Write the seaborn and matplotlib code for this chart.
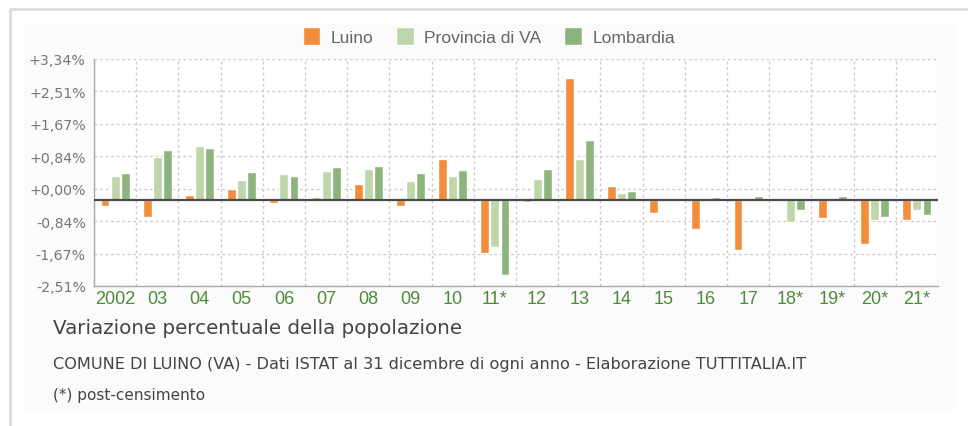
import pandas as pd
import seaborn as sns
import matplotlib.pyplot as plt
from matplotlib.lines import Line2D
from matplotlib.patches import Rectangle

anni = ["2002", "03", "04", "05", "06", "07", "08", "09", "10", "11*",
        "12", "13", "14", "15", "16", "17", "18*", "19*", "20*", "21*"]
luino = [-0.17, -0.45, 0.13, 0.26, -0.09, 0.07, 0.41, -0.17, 1.04, -1.39,
         -0.07, 3.14, 0.35, -0.34, -0.77, -1.30, -0.02, -0.49, -1.14, -0.54]
provincia = [0.60, 1.09, 1.39, 0.50, 0.66, 0.74, 0.80, 0.48, 0.60, -1.22,
             0.52, 1.06, 0.17, 0.01, 0.01, 0.01, -0.58, -0.03, -0.52, -0.28]
lombardia = [0.69, 1.27, 1.33, 0.71, 0.60, 0.84, 0.87, 0.69, 0.77, -1.95,
             0.79, 1.54, 0.21, 0.02, 0.06, 0.10, -0.27, 0.10, -0.45, -0.39]
serie = ["Luino", "Provincia di VA", "Lombardia"]
colori = ["#f28d3c", "#bdd6aa", "#8db47c"]
ytick_labels = ["+3,34%", "+2,51%", "+1,67%", "+0,84%", "+0,00%",
                "-0,84%", "-1,67%", "-2,51%"]

df = pd.DataFrame({
    "anno": anni * 3,
    "valore": luino + provincia + lombardia,
    "serie": [serie[0]] * 20 + [serie[1]] * 20 + [serie[2]] * 20,
})

sns.set_style("white")
plt.rcParams["font.family"] = ["Liberation Sans", "DejaVu Sans"]
wide = ["DejaVu Sans"]

fig = plt.figure(figsize=(9.68, 4.27), dpi=100)
fig.patch.set_facecolor("white")

# cornice del riquadro
fig.add_artist(Rectangle((24 / 968, 15 / 427), 931 / 968, 387 / 427,
                         transform=fig.transFigure, facecolor="#fbfbfb",
                         edgecolor="none", zorder=0))
fig.add_artist(Line2D([10 / 968, 1], [1 - 10 / 427, 1 - 10 / 427],
                      transform=fig.transFigure, color="#dddddd", lw=2))
fig.add_artist(Line2D([10 / 968, 10 / 968], [0, 1 - 10 / 427],
                      transform=fig.transFigure, color="#dddddd", lw=2))

ax = fig.add_axes([94 / 968, 1 - 287 / 427, 844 / 968, 227 / 427])
ax.set_facecolor("white")

sns.barplot(data=df, x="anno", y="valore", hue="serie", palette=colori,
            hue_order=serie, order=anni, width=0.72, gap=0.12,
            ax=ax, zorder=3, saturation=1)

ymin, ymax = -2.24, 3.64
step = (ymax - ymin) / 7
ax.set_ylim(ymin, ymax)
ax.set_xlim(-0.5, 19.5)
ax.set_yticks([ymax - k * step for k in range(8)])
ax.set_yticklabels(ytick_labels, family=wide)
ax.set_xticks(range(20))
ax.set_xticks([i - 0.5 for i in range(21)], minor=True)

ax.grid(axis="y", which="major", color="#cccccc", ls=(0, (2, 2)), lw=1)
ax.grid(axis="x", which="minor", color="#cccccc", ls=(0, (2, 2)), lw=1)
ax.grid(axis="x", which="major", visible=False)
ax.axhline(0, color="#4a4a4a", lw=1.6, zorder=4)

ax.tick_params(axis="y", length=5, color="#aaaaaa", labelcolor="#777777",
               labelsize=10.2, pad=1)
ax.tick_params(axis="x", which="both", length=0, labelcolor="#4f8a3c",
               labelsize=13, pad=3)
for s in ["top", "right"]:
    ax.spines[s].set_visible(False)
for s in ["left", "bottom"]:
    ax.spines[s].set_color("#aaaaaa")
    ax.spines[s].set_linewidth(1)
ax.set_xlabel("")
ax.set_ylabel("")

handles, labels = ax.get_legend_handles_labels()
ax.legend_.remove()
fig.legend(handles, labels, loc="center", bbox_to_anchor=(489 / 968, 1 - 37 / 427),
           ncol=3, frameon=False, fontsize=12.6, labelcolor="#666666",
           handlelength=1.0, handleheight=1.2, handletextpad=0.6,
           columnspacing=1.3)

fig.text(53 / 968, 1 - 329 / 427, "Variazione percentuale della popolazione",
         fontsize=14.3, color="#444444", va="center", ha="left", family=wide)
fig.text(53 / 968, 1 - 365 / 427,
         "COMUNE DI LUINO (VA) - Dati ISTAT al 31 dicembre di ogni anno - Elaborazione TUTTITALIA.IT",
         fontsize=11.6, color="#444444", va="center", ha="left", family=wide)
fig.text(53 / 968, 1 - 396 / 427, "(*) post-censimento",
         fontsize=11, color="#444444", va="center", ha="left", family=wide)

fig.savefig("out.png", dpi=100)
